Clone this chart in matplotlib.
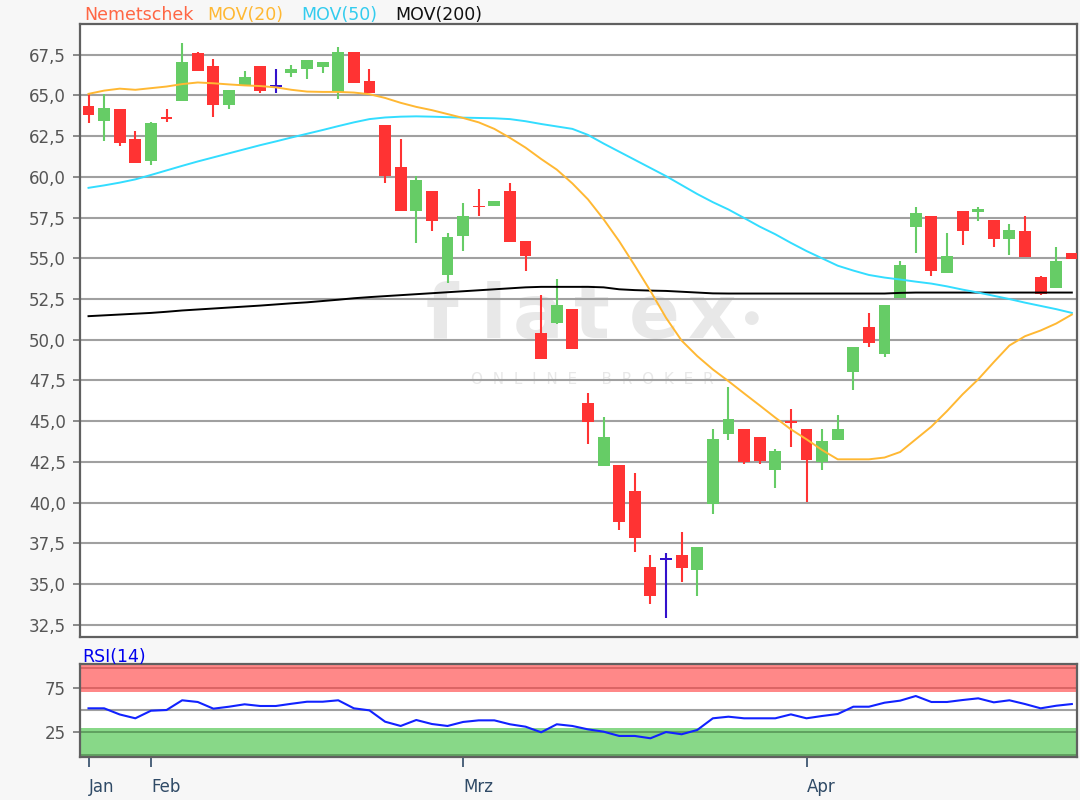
import matplotlib
matplotlib.use('Agg')
import matplotlib.pyplot as plt
import numpy as np

# ---------------- data ----------------
opens = [64.37, 63.45, 64.16, 62.32, 60.99, 63.61, 64.67, 67.60, 66.84, 64.41,
         65.65, 66.84, 65.59, 66.41, 66.65, 66.78, 65.24, 67.69, 65.86, 63.16,
         60.58, 57.93, 59.11, 54.00, 56.35, 58.19, 58.19, 59.11, 56.05, 50.43,
         51.04, 51.90, 46.14, 42.25, 42.31, 40.72, 36.06, 36.53, 36.79, 35.87,
         39.90, 44.19, 44.54, 44.05, 42.00, 44.97, 44.54, 42.52, 43.84, 48.01,
         50.80, 49.10, 52.58, 56.90, 57.62, 54.11, 57.88, 57.85, 57.38, 56.21,
         56.66, 53.84, 53.15, 55.33]
highs = [65.08, 65.08, 64.20, 62.79, 63.40, 64.16, 68.21, 67.69, 67.23, 65.35,
         66.51, 66.84, 66.62, 66.86, 67.19, 67.08, 67.96, 67.69, 66.62, 63.16,
         62.32, 60.07, 59.11, 56.56, 58.40, 59.26, 58.50, 59.63, 56.05, 52.78,
         53.74, 51.90, 46.75, 45.25, 42.31, 41.85, 36.79, 36.90, 38.17, 37.28,
         44.54, 47.09, 44.54, 44.05, 43.32, 45.73, 44.54, 44.54, 45.38, 49.55,
         51.67, 52.16, 54.82, 58.15, 57.62, 56.56, 57.88, 58.15, 57.38, 57.13,
         57.62, 53.94, 55.70, 55.33]
lows = [63.30, 62.18, 61.87, 60.85, 60.75, 63.40, 64.67, 66.51, 63.67, 64.16,
        65.65, 65.14, 65.14, 66.13, 66.00, 66.41, 64.79, 65.79, 65.14, 59.63,
        57.93, 55.95, 56.70, 53.49, 55.48, 57.58, 58.19, 55.98, 54.21, 48.85,
        50.94, 49.45, 43.58, 42.25, 38.31, 36.94, 33.77, 32.89, 35.10, 34.28,
        39.29, 43.84, 42.35, 42.35, 40.88, 43.44, 40.04, 41.99, 43.84, 46.89,
        49.57, 48.96, 52.58, 55.33, 53.94, 54.11, 55.80, 57.31, 55.70, 55.19,
        55.09, 52.73, 53.15, 54.98]
closes = [63.82, 64.26, 62.08, 60.85, 63.30, 63.60, 67.08, 66.51, 64.41, 65.35,
          66.13, 65.30, 65.59, 66.62, 67.19, 67.08, 67.69, 65.79, 65.14, 60.03,
          57.93, 59.83, 57.31, 56.29, 57.62, 58.18, 58.50, 55.98, 55.13, 48.85,
          52.12, 49.45, 44.95, 44.05, 38.82, 37.80, 34.28, 36.53, 35.98, 37.28,
          43.93, 45.16, 42.50, 42.56, 43.17, 44.96, 42.60, 43.78, 44.54, 49.55,
          49.82, 52.16, 54.57, 57.79, 54.25, 55.17, 56.70, 58.03, 56.21, 56.76,
          55.09, 52.82, 54.82, 54.98]

mov20 = [65.10, 65.30, 65.42, 65.35, 65.45, 65.55, 65.70, 65.80, 65.75, 65.68,
         65.62, 65.58, 65.50, 65.35, 65.24, 65.22, 65.22, 65.18, 65.08, 64.85,
         64.55, 64.30, 64.10, 63.86, 63.62, 63.35, 62.95, 62.40, 61.80, 61.10,
         60.45, 59.60, 58.62, 57.40, 56.05, 54.55, 53.00, 51.35, 49.95, 49.00,
         48.18, 47.46, 46.71, 45.97, 45.22, 44.50, 43.89, 43.23, 42.66, 42.66,
         42.66, 42.77, 43.11, 43.89, 44.67, 45.62, 46.65, 47.57, 48.63, 49.65,
         50.22, 50.57, 51.00, 51.55]
mov50 = [59.33, 59.48, 59.65, 59.85, 60.12, 60.40, 60.68, 60.95, 61.20, 61.45,
         61.70, 61.95, 62.18, 62.42, 62.65, 62.88, 63.12, 63.35, 63.55, 63.65,
         63.70, 63.72, 63.70, 63.67, 63.64, 63.62, 63.60, 63.55, 63.42, 63.25,
         63.10, 62.95, 62.58, 62.05, 61.55, 61.05, 60.55, 60.05, 59.50, 58.95,
         58.45, 58.00, 57.48, 56.95, 56.48, 55.95, 55.45, 55.00, 54.55, 54.25,
         53.98, 53.82, 53.70, 53.57, 53.45, 53.28, 53.08, 52.90, 52.70, 52.50,
         52.28, 52.08, 51.88, 51.65]
mov200 = [51.45, 51.50, 51.55, 51.60, 51.65, 51.72, 51.80, 51.86, 51.92, 51.98,
          52.04, 52.10, 52.17, 52.24, 52.30, 52.38, 52.46, 52.55, 52.62, 52.68,
          52.74, 52.80, 52.86, 52.92, 52.98, 53.04, 53.10, 53.16, 53.22, 53.25,
          53.25, 53.25, 53.25, 53.22, 53.10, 53.05, 53.02, 53.00, 52.95, 52.90,
          52.85, 52.84, 52.84, 52.84, 52.84, 52.84, 52.84, 52.84, 52.84, 52.84,
          52.84, 52.84, 52.88, 52.90, 52.90, 52.90, 52.90, 52.90, 52.90, 52.90,
          52.90, 52.90, 52.90, 52.90]
rsi14 = [51.9, 51.9, 45.0, 40.7, 49.2, 50.0, 60.9, 59.0, 51.5, 53.7,
         56.4, 54.5, 54.5, 57.0, 59.3, 59.3, 60.9, 51.9, 49.6, 36.9,
         32.1, 38.8, 34.3, 32.1, 36.6, 38.4, 38.4, 34.0, 31.3, 25.0,
         34.0, 32.1, 28.3, 25.7, 20.9, 20.9, 18.3, 25.3, 22.8, 27.6,
         40.7, 42.5, 40.7, 40.7, 40.7, 45.1, 40.7, 43.3, 45.5, 53.7,
         53.7, 58.2, 60.5, 65.7, 59.0, 59.0, 61.2, 63.1, 58.6, 60.9,
         56.7, 51.9, 54.8, 56.7]

month_labels = ['Jan', 'Feb', 'Mrz', 'Apr']
month_start_idx = [0, 4, 24, 46]
price_ticks = [32.5, 35.0, 37.5, 40.0, 42.5, 45.0, 47.5, 50.0, 52.5, 55.0,
               57.5, 60.0, 62.5, 65.0, 67.5]
rsi_ticks = [25, 75]

# ---------------- figure ----------------
W, H = 1080, 800
fig = plt.figure(figsize=(W / 100, H / 100), dpi=100, facecolor='#f7f7f7')


def axrect(l, t, r, b):
    return [l / W, 1 - b / H, (r - l) / W, (b - t) / H]


ax = fig.add_axes(axrect(80, 24, 1077, 637))
axr = fig.add_axes(axrect(80, 664, 1077, 757))

FONT = 'DejaVu Sans'
FS = 12
TICKC = '#555555'
GRIDC = '#a0a0a0'

o = np.array(opens); h = np.array(highs); l = np.array(lows); c = np.array(closes)
x = np.arange(len(o))
colors = np.where(c > o, '#66cc66', np.where(c < o, '#ff3333', '#3311cc'))

# gridlines
for v in price_ticks:
    ax.axhline(v, color=GRIDC, lw=1.5, zorder=1)

# watermark (inside the price axes, beneath everything)
WM = '#e8e8e8'
for ch, xp in zip('flatex', [442, 494, 538, 592, 654, 712]):
    ax.text(xp / W, 1 - 338 / H, ch, fontsize=54, fontweight='bold', family=FONT,
            color=WM, ha='center', va='baseline', zorder=0.5,
            transform=fig.transFigure)
ax.text(752 / W, 1 - 318 / H, '\u25cf', fontsize=13, color=WM, ha='center',
        va='center', family=FONT, zorder=0.5, transform=fig.transFigure)
ax.text(592 / W, 1 - 379 / H, 'O  N  L  I  N  E     B  R  O  K  E  R', fontsize=11,
        color='#e8e8e8', ha='center', va='center', family=FONT, zorder=0.5,
        transform=fig.transFigure)

# candles
ax.vlines(x, l, h, colors=colors, lw=1.5, zorder=3)
diff = np.abs(c - o)
bh = np.maximum(diff, 0.12)
bottom = np.minimum(o, c) - (bh - diff) / 2
ax.bar(x, bh, width=0.76, bottom=bottom, color=colors, linewidth=0, zorder=4)

# moving averages
ax.plot(x, mov200, color='black', lw=1.4, zorder=5)
ax.plot(x, mov50, color='#33ddff', lw=1.4, zorder=5)
ax.plot(x, mov20, color='#ffb833', lw=1.4, zorder=5)

ax.set_xlim(-0.545, 63.33)
ax.set_ylim(31.75, 69.39)
ax.set_yticks(price_ticks)
ax.set_yticklabels([f'{v:.1f}'.replace('.', ',') for v in price_ticks],
                   fontsize=FS, color=TICKC, family=FONT)
ax.set_xticks([])
ax.tick_params(axis='y', length=5, width=1.2, color='#777777', pad=5)
for s in ax.spines.values():
    s.set_color('#606060')
    s.set_linewidth(1.6)

# title pieces
for txt, xp, col in [('Nemetschek', 84, '#ff6644'), ('MOV(20)', 207, '#ffb833'),
                     ('MOV(50)', 301, '#33ccee'), ('MOV(200)', 395, '#111111')]:
    fig.text(xp / W, 1 - 20 / H, txt, fontsize=12.5, color=col, family=FONT,
             ha='left', va='baseline')

# ---------------- RSI panel ----------------
axr.set_xlim(-0.545, 63.33)
axr.set_ylim(-2.7, 101.6)
axr.axhspan(70, 101.6, color='#ff8888', lw=0, zorder=1)
axr.axhspan(-2.7, 30, color='#88d888', lw=0, zorder=1)
axr.axhline(97, color='#d86262', lw=1.3, zorder=2)
axr.axhline(75, color='#d86262', lw=1.3, zorder=2)
axr.axhline(25, color='#5c9c5c', lw=1.3, zorder=2)
axr.axhline(0, color='#5c9c5c', lw=1.3, zorder=2)
axr.axhline(50, color=GRIDC, lw=1.5, zorder=2)
axr.plot(x, rsi14, color='#1122ff', lw=1.5, zorder=5)
axr.set_yticks(rsi_ticks)
axr.set_yticklabels([str(v) for v in rsi_ticks], fontsize=FS, color=TICKC, family=FONT)
axr.tick_params(axis='y', length=5, width=1.2, color='#777777', pad=5)
axr.set_xticks(month_start_idx)
axr.set_xticklabels(month_labels, fontsize=FS, color='#2f4a66', family=FONT)
for lab in axr.get_xticklabels():
    lab.set_horizontalalignment('left')
axr.tick_params(axis='x', length=7, width=1.2, color='#2f4a66', pad=8)
for s in axr.spines.values():
    s.set_color('#606060')
    s.set_linewidth(1.6)

fig.text(82 / W, 1 - 662 / H, 'RSI(14)', fontsize=12.5, color='#0000ee', family=FONT,
         ha='left', va='baseline')

fig.savefig('out.png', dpi=100, facecolor=fig.get_facecolor())
